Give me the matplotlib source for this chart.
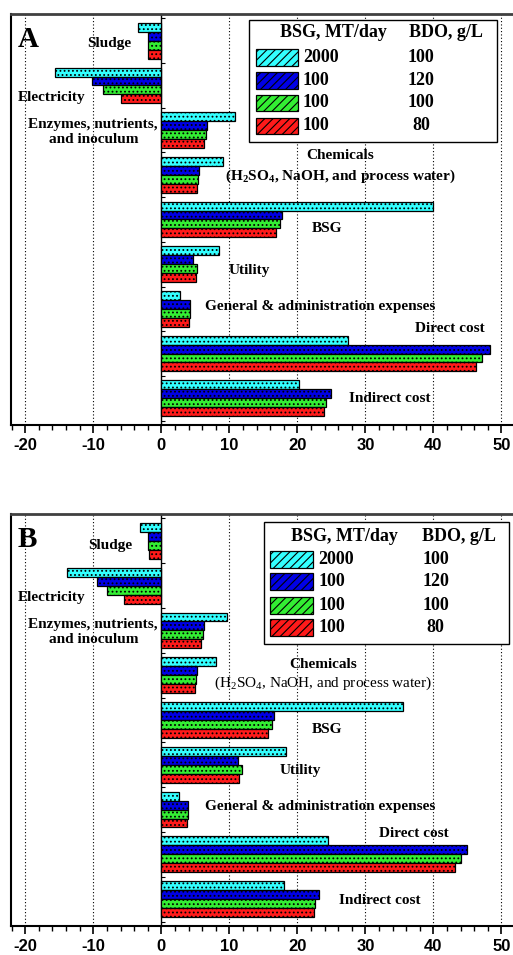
import matplotlib
matplotlib.use('Agg')
import matplotlib.pyplot as plt
from matplotlib.patches import Rectangle
from matplotlib.ticker import MultipleLocator

plt.rcParams['axes.unicode_minus'] = False
plt.rcParams['mathtext.fontset'] = 'custom'
plt.rcParams['mathtext.rm'] = 'Liberation Serif'
plt.rcParams['mathtext.bf'] = 'Liberation Serif:bold'
plt.rcParams['hatch.linewidth'] = 0.8

# Data
categories = ['Sludge', 'Electricity', 'Enzymes, nutrients,\nand inoculum', 'Chemicals',
              'BSG', 'Utility', 'General & administration expenses', 'Direct cost', 'Indirect cost']

cyan_a = [-3.5, -15.6, 10.9, 9.1, 39.9, 8.5, 2.8, 27.5, 20.3]
blue_a = [-2.0, -10.2, 6.7, 5.5, 17.8, 4.7, 4.2, 48.3, 24.9]
green_a = [-2.0, -8.6, 6.5, 5.4, 17.5, 5.25, 4.2, 47.2, 24.2]
red_a = [-1.9, -5.9, 6.3, 5.3, 16.8, 5.15, 4.1, 46.2, 23.9]

cyan_b = [-3.1, -13.9, 9.7, 8.1, 35.6, 18.4, 2.6, 24.5, 18.1]
blue_b = [-1.95, -9.5, 6.2, 5.2, 16.5, 11.25, 3.9, 45.0, 23.2]
green_b = [-1.95, -8.0, 6.1, 5.1, 16.3, 11.8, 3.85, 44.0, 22.6]
red_b = [-1.85, -5.5, 5.9, 4.95, 15.7, 11.45, 3.8, 43.1, 22.4]

bsg_rate = ['2000', '100', '100', '100']
bdo_titer = ['100', '120', '100', '80']
colors = ['#33ffff', '#0000e6', '#33ee33', '#ff1a1a']

SERIF = 'Liberation Serif'

# label positions (x, y) in data units, per panel
labels_a = [(-7.7, 0.07), (-16.1, 1.26), (-10.0, 2.04), (26.3, 2.56), (24.4, 4.21),
            (12.9, 5.15), (23.4, 5.94), (42.4, 6.45), (33.6, 8.0)]
labels_b = [(-7.5, 0.11), (-16.1, 1.26), (-10.0, 2.04), (23.8, 2.76), (24.4, 4.21),
            (20.4, 5.13), (23.4, 5.94), (37.2, 6.53), (32.1, 8.02)]


def draw_panel(ax, series, label_pos, letter, sub_bold, chem_sub_y, leg):
    n = len(categories)
    offsets = [-0.3, -0.1, 0.1, 0.3]
    for s, vals in enumerate(series):
        ys = [i + offsets[s] for i in range(n)]
        ax.barh(ys, vals, height=0.2, color=colors[s], edgecolor='k',
                linewidth=0.9, hatch='....', zorder=3)

    ax.set_xlim(-22.1, 51.7)
    ax.set_ylim(8.6, -0.6)

    ax.xaxis.set_major_locator(MultipleLocator(10))
    ax.xaxis.set_minor_locator(MultipleLocator(2))
    ax.set_yticks([i + 0.5 for i in range(-1, n)])
    ax.set_yticklabels([])
    ax.tick_params(axis='y', direction='in', length=3, width=0.8)
    ax.tick_params(axis='x', which='major', direction='out', length=6, width=1.2, pad=3)
    ax.tick_params(axis='x', which='minor', direction='out', length=3.5, width=1.0)
    for t in ax.get_xticklabels():
        t.set_fontfamily('Liberation Sans')
        t.set_fontweight('bold')
        t.set_fontsize(12)

    ax.spines['left'].set_position(('data', 0))
    ax.spines['left'].set_linewidth(1.0)
    ax.spines['right'].set_visible(False)
    ax.spines['top'].set_linewidth(2.0)
    ax.spines['top'].set_color('#404040')
    ax.spines['bottom'].set_linewidth(1.5)
    ax.plot([0, 0], [0, 1], transform=ax.transAxes, color='k', lw=1.5, clip_on=False)

    for g in [-20, -10, 10, 20, 30, 40, 50]:
        ax.axvline(g, color='k', ls=(0, (1, 2)), lw=0.8, zorder=1)

    # category labels
    for i, name in enumerate(categories):
        x, y = label_pos[i]
        if name == 'Chemicals':
            ax.text(x, y, name, ha='center', va='center', fontfamily=SERIF,
                    fontweight='bold', fontsize=11, zorder=5)
            if sub_bold:
                sub = r'(H$_\mathbf{2}$SO$_\mathbf{4}$, NaOH, and process water)'
                w = 'bold'
            else:
                sub = r'(H$_2$SO$_4$, NaOH, and process water)'
                w = 'normal'
            ax.text(x, chem_sub_y, sub, ha='center', va='center', fontfamily=SERIF,
                    fontweight=w, fontsize=11, zorder=5)
        else:
            ax.text(x, y, name, ha='center', va='center', fontfamily=SERIF,
                    fontweight='bold', fontsize=11, linespacing=1.15, zorder=5)

    ax.text(-21.1, 0.14, letter, ha='left', va='baseline', fontfamily=SERIF,
            fontweight='bold', fontsize=21, zorder=5)

    # legend block
    x0, x1, y0, y1 = leg['box']
    ax.add_patch(Rectangle((x0, y0), x1 - x0, y1 - y0, facecolor='white',
                           edgecolor='k', lw=1.0, zorder=6))
    ax.text(leg['hdr1'], leg['hy'], 'BSG, MT/day', ha='center', va='center',
            fontfamily=SERIF, fontweight='bold', fontsize=13, zorder=7)
    ax.text(leg['hdr2'], leg['hy'], 'BDO, g/L', ha='center', va='center',
            fontfamily=SERIF, fontweight='bold', fontsize=13, zorder=7)
    px0, px1 = leg['patch']
    for k in range(4):
        ry = leg['rows'][k]
        ax.add_patch(Rectangle((px0, ry - 0.19), px1 - px0, 0.38, facecolor=colors[k],
                               edgecolor='k', lw=0.9, hatch='////', zorder=7))
        ax.text(leg['txt'], ry, bsg_rate[k], ha='left', va='center', fontfamily=SERIF,
                fontweight='bold', fontsize=13, zorder=7)
        ax.text(leg['val'], ry, bdo_titer[k], ha='center', va='center', fontfamily=SERIF,
                fontweight='bold', fontsize=13, zorder=7)


fig = plt.figure(figsize=(5.13, 9.55), dpi=100)
axA = fig.add_axes([11 / 513, 1 - 425 / 955, 502 / 513, 411 / 955])
axB = fig.add_axes([11 / 513, 1 - 926 / 955, 502 / 513, 412 / 955])

leg_a = dict(box=(12.9, 49.3, -0.466, 2.265), hdr1=25.3, hdr2=41.9, hy=-0.175,
             rows=[0.363, 0.878, 1.392, 1.907], patch=(13.9, 20.06), txt=20.8, val=38.2)
leg_b = dict(box=(15.1, 51.1, -0.414, 2.31), hdr1=26.9, hdr2=43.7, hy=-0.107,
             rows=[0.407, 0.915, 1.437, 1.945], patch=(15.96, 22.25), txt=23.1, val=40.35)

draw_panel(axA, [cyan_a, blue_a, green_a, red_a], labels_a, 'A', True, 3.03, leg_a)
draw_panel(axB, [cyan_b, blue_b, green_b, red_b], labels_b, 'B', False, 3.19, leg_b)

fig.savefig('out.png', dpi=100)
